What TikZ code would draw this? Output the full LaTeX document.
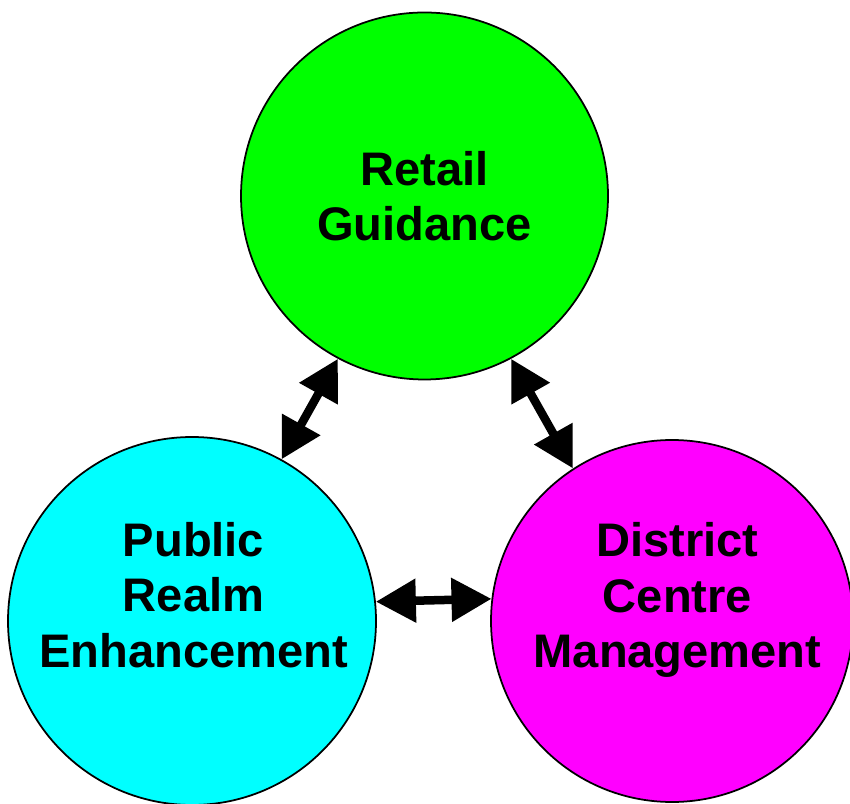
\documentclass[tikz,border=0pt]{standalone}
\usepackage{fontspec}
\setmainfont{Liberation Sans}
\usetikzlibrary{arrows.meta}
\definecolor{rgreen}{RGB}{0,255,0}
\definecolor{rcyan}{RGB}{0,255,255}
\definecolor{rmagenta}{RGB}{255,0,255}
\begin{document}
\begin{tikzpicture}[
  ring/.style={circle, draw=black, line width=0.5pt, minimum size=#1, inner sep=0pt},
  lbl/.style={align=center, inner sep=0pt, font=\fontsize{13.4}{15.8}\selectfont\bfseries},
  link/.style={line width=0.085cm, {Triangle[length=0.4cm,width=0.42cm]}-{Triangle[length=0.4cm,width=0.42cm]}}]
\useasboundingbox (0,0) rectangle (8.5,8.03);
%画三个圆
\node[ring=3.67cm, fill=rgreen, lbl] (retail) at (4.245,6.07) {Retail\\Guidance};
\node[ring=3.68cm, fill=rcyan] (realm) at (1.92,1.82) {};
\node[ring=3.62cm, fill=rmagenta] (district) at (6.72,1.82) {};
\node[lbl] (realmtext) at (1.935,2.08) {Public\\Realm\\Enhancement};
\node[lbl] (districttext) at (6.775,2.03) {District\\Centre\\Management};
%画双向箭头
\draw[link] (retail.242) -- (realm.61);
\draw[link] (retail.298) -- (district.123);
\draw[link] (realm.6) -- (district.173);
\end{tikzpicture}
\end{document}
